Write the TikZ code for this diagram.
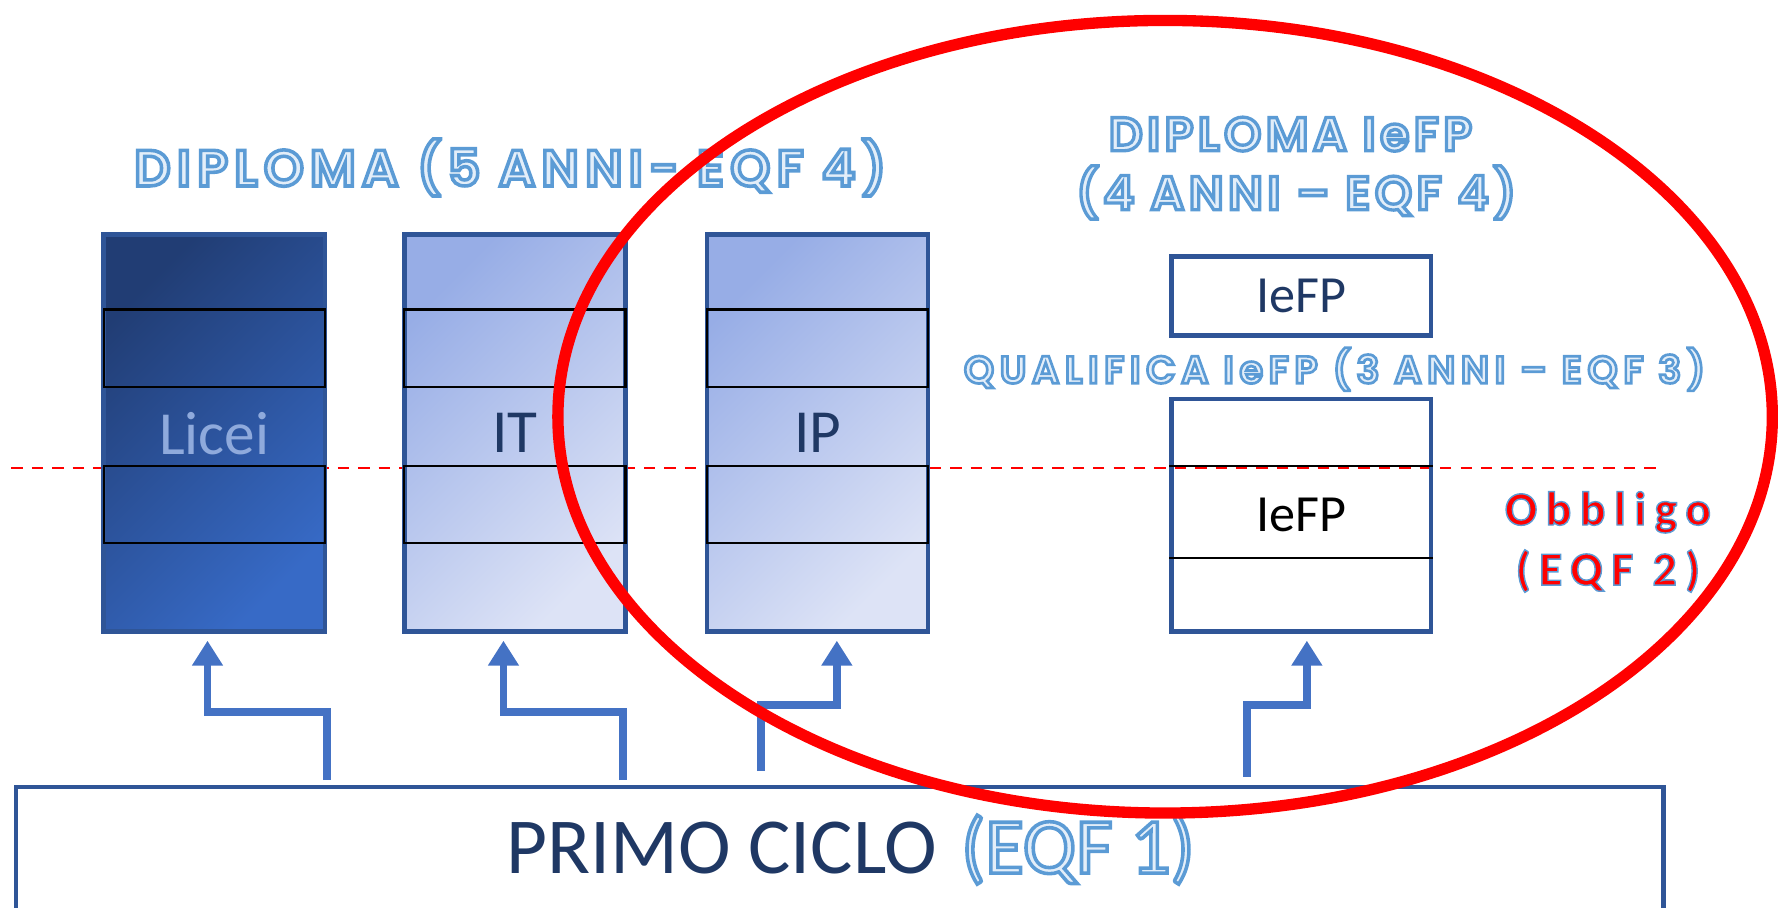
\documentclass[tikz,border=0pt]{standalone}
\usepackage{fontspec}
\setmainfont{Carlito}
\newfontfamily\hdfat{Poppins SemiBold}[LetterSpace=9,FakeBold=7]
\newfontfamily\obfat{Carlito}[BoldFont=Carlito Bold,BoldFeatures={FakeBold=3},LetterSpace=18]
\newfontfamily\eqfat{Carlito}[FakeBold=4.5]
\usetikzlibrary{arrows.meta,calc}

\definecolor{boxblue}{HTML}{2F5597}
\definecolor{navy}{HTML}{1F3864}
\definecolor{arrblue}{HTML}{4472C4}
\definecolor{fxblue}{HTML}{5B9BD5}
\definecolor{fxfill}{HTML}{E3EEF9}
\definecolor{liceitxt}{HTML}{8FAADC}
\definecolor{liceitop}{HTML}{213D74}
\definecolor{liceibot}{HTML}{376AC6}
\definecolor{ittop}{HTML}{97ADE6}
\definecolor{itbot}{HTML}{DDE3F6}

% outlined text: light fill, blue stroke
\newcommand\strokeblue{\special{pdf:literal direct 0.357 0.608 0.835 RG}}
\newcommand\hdtxt[2][9]{{\hdfat\addfontfeatures{LetterSpace=#1}\color{fxfill}\strokeblue#2}}
\newcommand\obtxt[1]{{\obfat\bfseries\color{red}\strokeblue#1}}
\newcommand\eqtxt[1]{{\eqfat\color{fxfill}\strokeblue#1}}

\begin{document}
\begin{tikzpicture}[x=0.5pt,y=-0.5pt,
  schoolbox/.style={draw=boxblue,line width=2pt,minimum width=97.5pt,minimum height=175pt,inner sep=0pt,font=\fontsize{27}{32}\selectfont},
  darkshade/.style={top color=liceitop,bottom color=liceibot,shading angle=45},
  lightshade/.style={top color=ittop,bottom color=itbot,shading angle=45},
  band/.style={draw=black,line width=1pt},
  iefpbox/.style={draw=boxblue,line width=2pt,minimum width=114.5pt,inner sep=0pt,font=\fontsize{23}{28}\selectfont},
  uparrow/.style={draw=arrblue,line width=3.5pt,-{Triangle[width=13pt,length=11pt]}},
  heading/.style={anchor=base,inner sep=0pt,font=\fontsize{22}{26}\selectfont}]
  \useasboundingbox (0,0) rectangle (1568,800);

  % obbligo line (behind the boxes)
  \draw[red,line width=0.8pt,dash pattern=on 5pt off 4pt] (10,413) -- (1462,413);

  \node[schoolbox,darkshade,text=liceitxt] (licei) at (189,382) {Licei};
  \node[schoolbox,lightshade,text=navy] (it) at (454,382) {IT};
  \node[schoolbox,lightshade,text=navy] (ip) at (721,382) {IP};

  \draw[band] ($(licei.north west)+(2,68)$) rectangle ($(licei.north east)+(-2,136)$);
  \draw[band] ($(licei.north west)+(2,206)$) rectangle ($(licei.north east)+(-2,274)$);
  \draw[band] ($(it.north west)+(2,68)$) rectangle ($(it.north east)+(-2,136)$);
  \draw[band] ($(it.north west)+(2,206)$) rectangle ($(it.north east)+(-2,274)$);
  \draw[band] ($(ip.north west)+(2,68)$) rectangle ($(ip.north east)+(-2,136)$);
  \draw[band] ($(ip.north west)+(2,206)$) rectangle ($(ip.north east)+(-2,274)$);

  \node[iefpbox,minimum height=35pt,text=navy] (iefpdip) at (1147.5,261) {IeFP};
  \node[iefpbox,minimum height=102.5pt] (iefpqual) at (1147.5,454.5) {IeFP};
  \draw[band] ($(iefpqual.north west)+(0,61)$) -- ($(iefpqual.north east)+(0,61)$);
  \draw[band] ($(iefpqual.north west)+(0,142)$) -- ($(iefpqual.north east)+(0,142)$);

  \node[draw=boxblue,line width=2pt,minimum width=726.5pt,minimum height=80pt,anchor=north] (primo) at (740.5,692) {};
  \node[anchor=base,inner sep=0pt,font=\fontsize{35}{40}\selectfont,text=navy] (primotxt) at (750,770) {PRIMO CICLO\hspace{0.3em}\eqtxt{(EQF 1)}};

  % paths up from the first cycle
  \draw[uparrow] ($(primo.north -| licei.east)+(0,-4)$) -- ++(0,-60) -| ($(licei.south)+(-6,6)$);
  \draw[uparrow] ($(primo.north -| it.east)+(-4,-4)$) -- ++(0,-60) -| ($(it.south)+(-10,6)$);
  \draw[uparrow] ($(primo.north -| ip.west)+(50,-12)$) -- ++(0,-58) -| ($(ip.south)+(17,6)$);
  \draw[uparrow] ($(primo.north -| iefpqual.west)+(69,-7)$) -- ++(0,-63) -| ($(iefpqual.south)+(5,6)$);

  \node[heading,font=\fontsize{22.5}{26}\selectfont] (dip5) at (450,164) {\hdtxt[12]{DIPLOMA (5 ANNI- EQF 4)}};
  \node[heading,font=\fontsize{21}{25}\selectfont] (dipiefp) at (1138,133) {\hdtxt{DIPLOMA IeFP}};
  \node[heading,font=\fontsize{21}{25}\selectfont] (dipanni) at (1143,185) {\hdtxt{(4 ANNI – EQF 4)}};
  \node[heading,font=\fontsize{17}{20}\selectfont] (qualtxt) at (1177,338) {\hdtxt[14]{QUALIFICA IeFP (3 ANNI – EQF 3)}};
  \node[heading,font=\fontsize{21}{25}\selectfont] (obb) at (1418,463) {\obtxt{Obbligo}};
  \node[heading,font=\fontsize{21}{25}\selectfont] (obbeqf) at (1418,516) {\obtxt{(EQF 2)}};

  % the red ring on top
  \draw[red,line width=5pt] (1027.5,367.5) ellipse [x radius=535.5,y radius=349.5];
\end{tikzpicture}
\end{document}
